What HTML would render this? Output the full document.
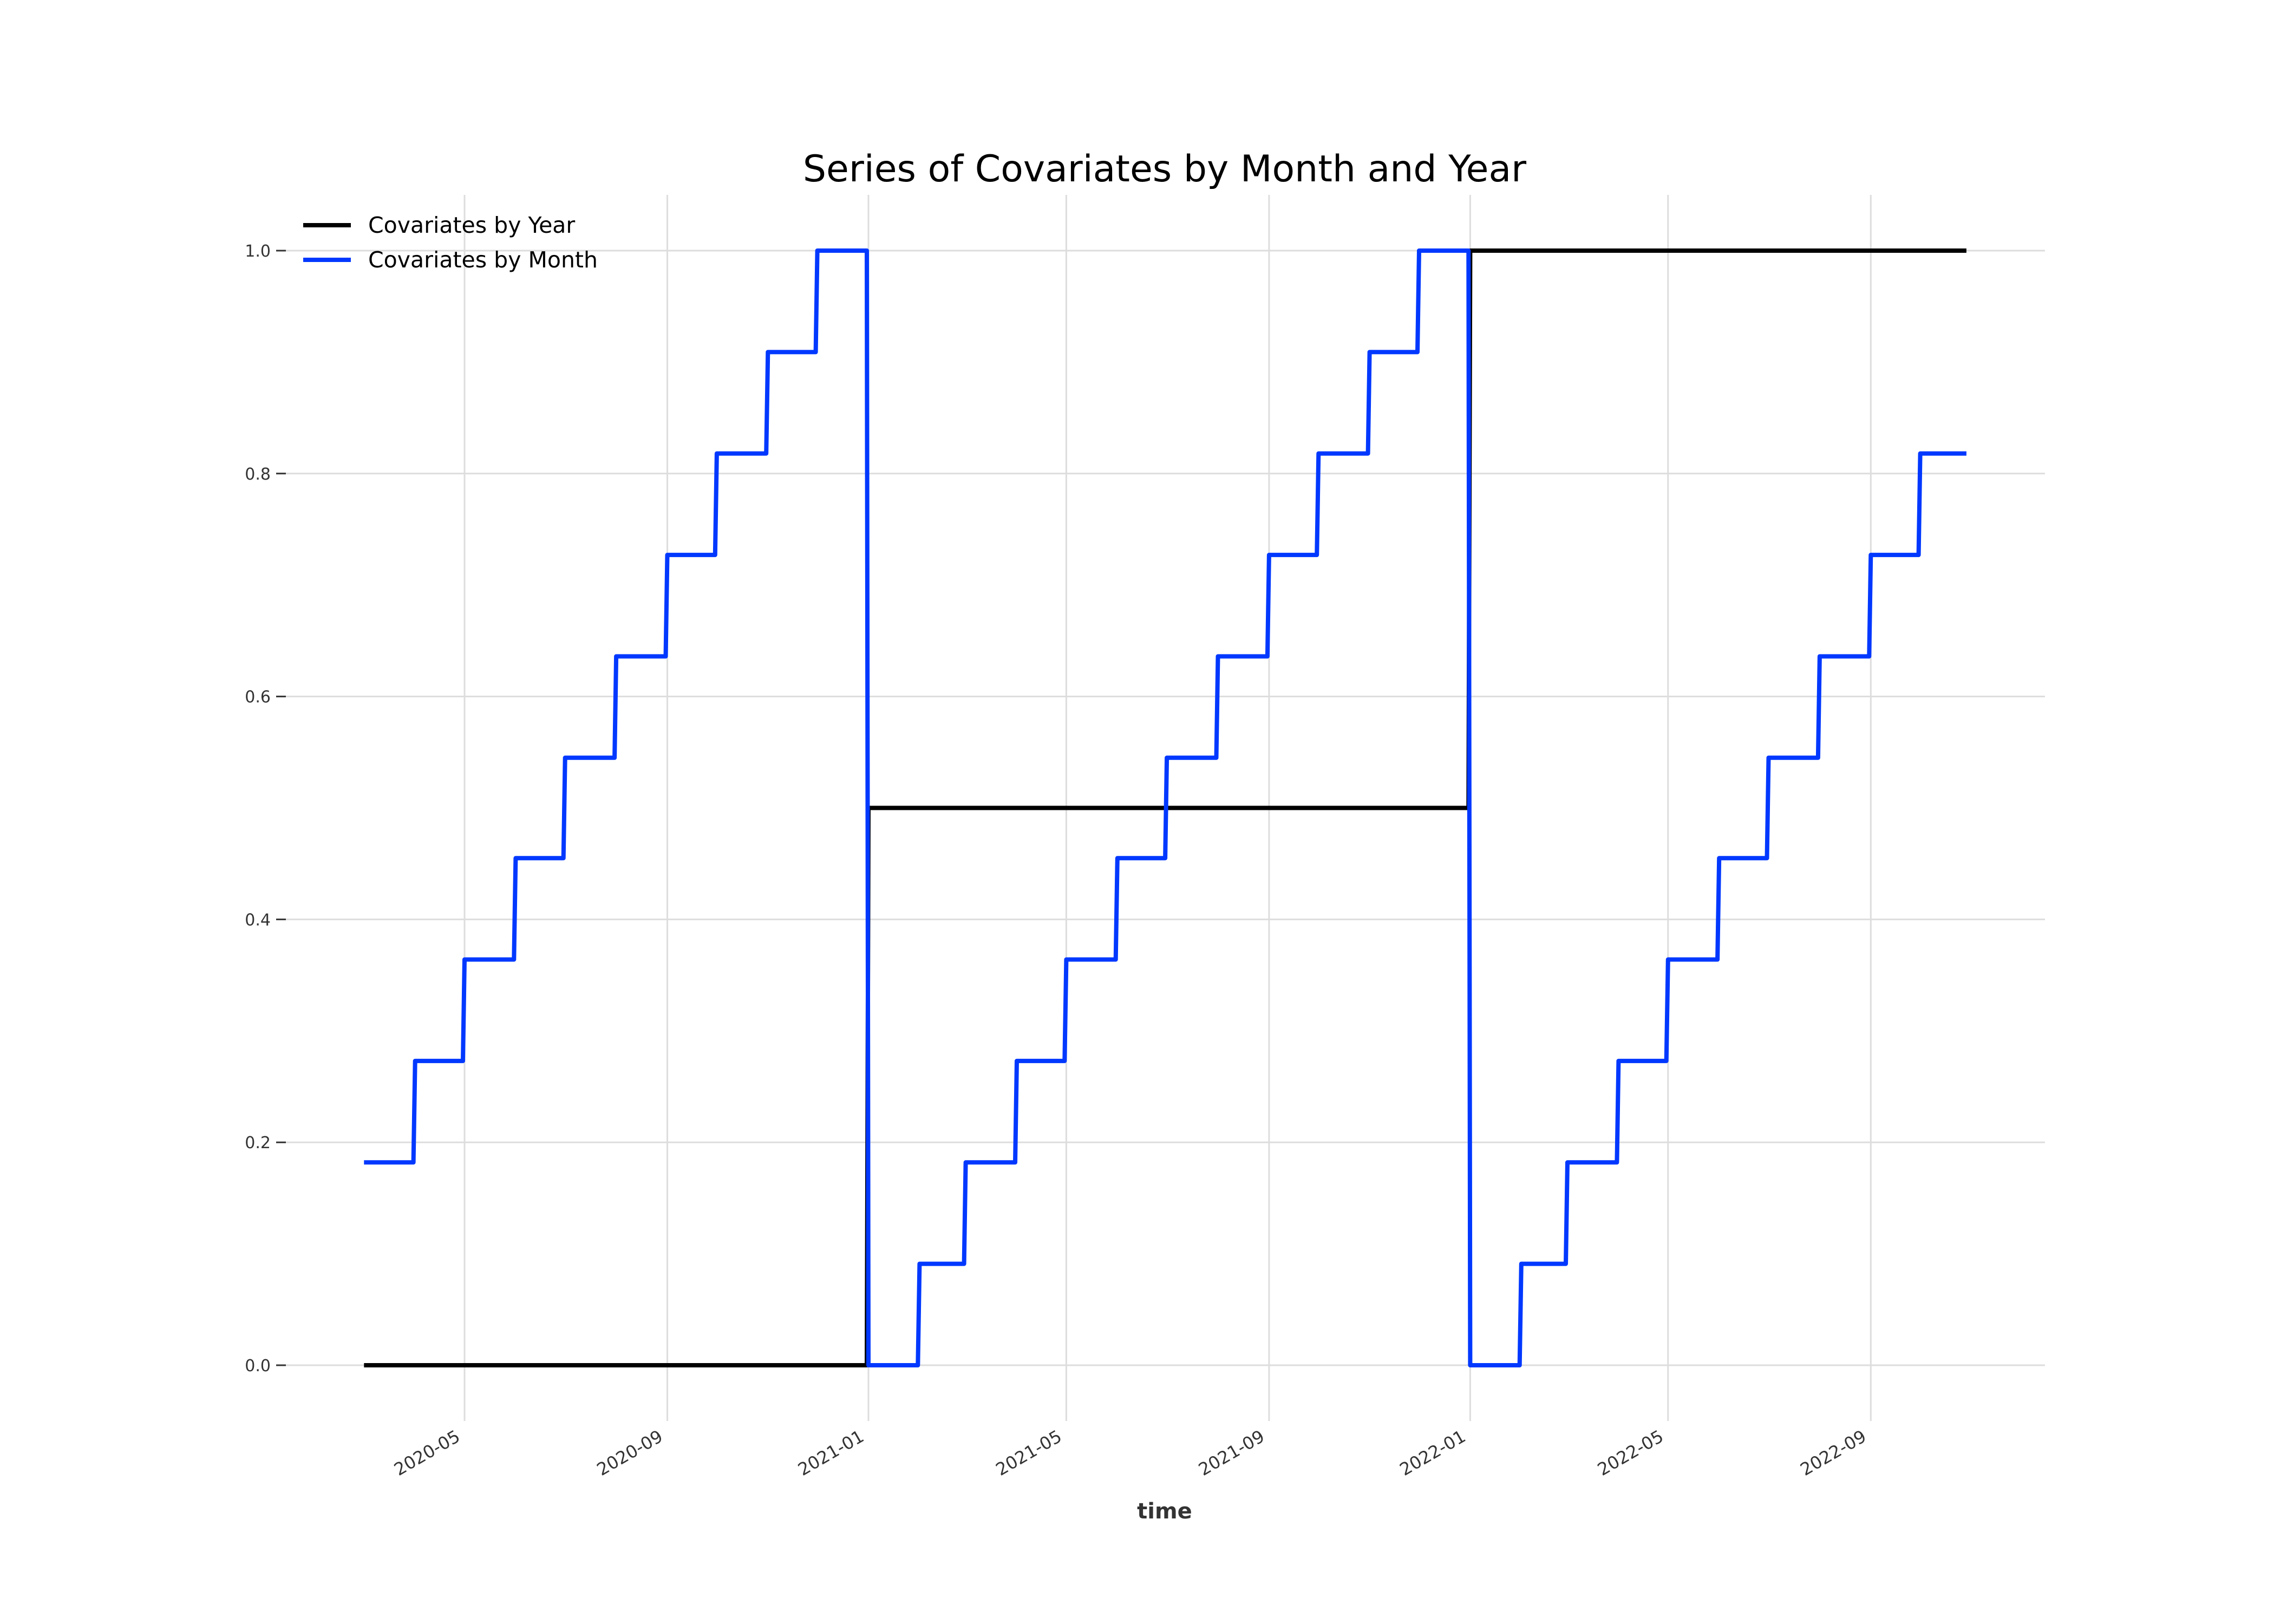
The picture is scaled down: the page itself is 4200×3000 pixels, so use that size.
<!DOCTYPE html>
<html><head><meta charset="utf-8"><style>
html,body{margin:0;padding:0;background:#fff;}
svg{display:block;font-family:"DejaVu Sans","Liberation Sans",sans-serif;}
</style></head><body>
<svg id="chart" xmlns="http://www.w3.org/2000/svg" width="4200" height="3000" viewBox="0 0 4200 3000">
<rect width="4200" height="3000" fill="#fff"/>
<text x="2151" y="335" font-size="68" text-anchor="middle" fill="#000">Series of Covariates by Month and Year</text>
<g id="grid"></g>
<g id="yticks"></g>
<g id="xticks"></g>
<g id="series"></g>
<text x="2151" y="2805" font-size="40" font-weight="bold" text-anchor="middle" fill="#333">time</text>
<g>
<line x1="560" y1="416" x2="648" y2="416" stroke="#000" stroke-width="8"/>
<text x="680" y="430" font-size="41" fill="#000">Covariates by Year</text>
<line x1="560" y1="480" x2="648" y2="480" stroke="#0038ff" stroke-width="8"/>
<text x="680" y="494" font-size="41" fill="#000">Covariates by Month</text>
</g>
</svg>
<script>
// Data
const monthStarts = ["2020-03","2020-04","2020-05","2020-06","2020-07","2020-08","2020-09","2020-10","2020-11","2020-12",
"2021-01","2021-02","2021-03","2021-04","2021-05","2021-06","2021-07","2021-08","2021-09","2021-10","2021-11","2021-12",
"2022-01","2022-02","2022-03","2022-04","2022-05","2022-06","2022-07","2022-08","2022-09","2022-10"];
const monthValues = [0.182,0.273,0.364,0.455,0.545,0.636,0.727,0.818,0.909,1.0,
0,0.091,0.182,0.273,0.364,0.455,0.545,0.636,0.727,0.818,0.909,1.0,
0,0.091,0.182,0.273,0.364,0.455,0.545,0.636,0.727,0.818];
const yearStarts = ["2020-03-01","2021-01-01","2022-01-01"];
const yearValues = [0,0.5,1.0];
const seriesEnd = "2022-10-29";
const yTickValues = [0,0.2,0.4,0.6,0.8,1.0];
const yTickLabels = ["0.0","0.2","0.4","0.6","0.8","1.0"];
const xTickLabels = ["2020-05","2020-09","2021-01","2021-05","2021-09","2022-01","2022-05","2022-09"];

const NS="http://www.w3.org/2000/svg";
const DAY=86400000;
const refT=Date.UTC(2020,4,1), refX=858, pxPerDay=(1604-858)/245;
function tms(s){const p=s.split("-").map(Number);return Date.UTC(p[0],p[1]-1,p[2]||1);}
function xs(s){return refX+(tms(s)-refT)/DAY*pxPerDay;}
function xt(t){return refX+(t-refT)/DAY*pxPerDay;}
function ys(v){return 2522-v*(2522-463);}
const plotTop=360,plotBottom=2625,plotLeft=528,plotRight=3777;
function mk(tag,attrs,parent){const e=document.createElementNS(NS,tag);for(const k in attrs)e.setAttribute(k,attrs[k]);parent.appendChild(e);return e;}
const grid=document.getElementById('grid'),yt=document.getElementById('yticks'),xtG=document.getElementById('xticks'),ser=document.getElementById('series');
yTickValues.forEach((v,i)=>{
 const y=ys(v);
 const g=mk('line',{x1:plotLeft,x2:plotRight,y1:y,y2:y,stroke:'#dddddd','stroke-width':3},grid);
 
 
 const tk=mk('line',{x1:510,x2:528,y1:y,y2:y,stroke:'#333','stroke-width':3},yt);
 
 
 const t=mk('text',{x:500,y:y+11,'font-size':30,'text-anchor':'end',fill:'#333'},yt);
 t.textContent=yTickLabels[i];
 
 
});
xTickLabels.forEach(l=>{
 const x=xs(l);
 const g=mk('line',{x1:x,x2:x,y1:plotTop,y2:plotBottom,stroke:'#dddddd','stroke-width':3},grid);
 
 
 const t=mk('text',{x:x-6,y:2660,'font-size':32,'text-anchor':'end',fill:'#333',transform:`rotate(-30 ${x-6} 2660)`},xtG);
 t.textContent=l;
 
 
});
function stepPath(starts,vals,endT){
 let d='';
 for(let i=0;i<starts.length;i++){
  const t0=tms(starts[i]);
  const t1=i<starts.length-1?tms(starts[i+1])-DAY:endT;
  d+=(i?'L':'M')+xt(t0).toFixed(1)+','+ys(vals[i]).toFixed(1)+'L'+xt(t1).toFixed(1)+','+ys(vals[i]).toFixed(1);
 }
 return d;
}
const endT=tms(seriesEnd);
const yp=mk('path',{d:stepPath(yearStarts,yearValues,endT),fill:'none',stroke:'#000','stroke-width':8,'stroke-linejoin':'round'},ser);


const mp=mk('path',{d:stepPath(monthStarts,monthValues,endT),fill:'none',stroke:'#0038ff','stroke-width':8,'stroke-linejoin':'round'},ser);


</script>
</body></html>
